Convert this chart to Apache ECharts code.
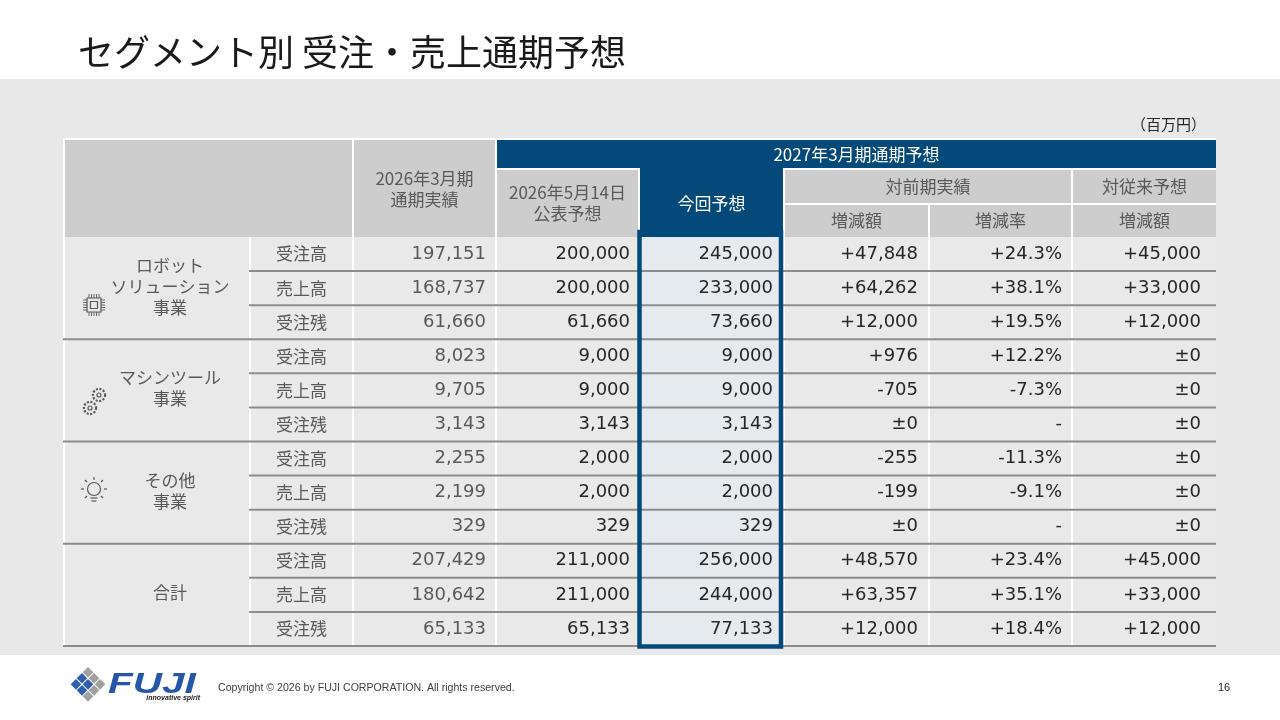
<!DOCTYPE html>
<html>
<head>
<meta charset="utf-8">
<script src="https://cdn.jsdelivr.net/npm/echarts@6/dist/echarts.min.js"></script>
<style>
  html, body { margin: 0; padding: 0; background: #fff; }
  #chart { width: 1280px; height: 720px; }
</style>
</head>
<body>
<div id="chart"></div>
<script>
// ---- data ----
const segments = ['ロボット\nソリューション\n事業', 'マシンツール\n事業', 'その他\n事業', '合計']
const items = ['受注高', '売上高', '受注残']
const actualFY26 = [197151, 168737, 61660, 8023, 9705, 3143, 2255, 2199, 329, 207429, 180642, 65133]
const planMay14 = [200000, 200000, 61660, 9000, 9000, 3143, 2000, 2000, 329, 211000, 211000, 65133]
const forecastFY27 = [245000, 233000, 73660, 9000, 9000, 3143, 2000, 2000, 329, 256000, 244000, 77133]
const diffPrevYear = [47848, 64262, 12000, 976, -705, 0, -255, -199, 0, 48570, 63357, 12000]
const ratePrevYear = [24.3, 38.1, 19.5, 12.2, -7.3, null, -11.3, -9.1, null, 23.4, 35.1, 18.4]
const diffPlan = [45000, 33000, 12000, 0, 0, 0, 0, 0, 0, 45000, 33000, 12000]
// header cells: [text, firstCol, lastCol+1, firstHeaderRow, lastHeaderRow+1, blue]
const headerCells = [
  ['', 0, 2, 0, 3, false],
  ['2026年3月期\n通期実績', 2, 3, 0, 3, false],
  ['2027年3月期通期予想', 3, 8, 0, 1, true],
  ['2026年5月14日\n公表予想', 3, 4, 1, 3, false],
  ['今回予想', 4, 5, 1, 3, true],
  ['対前期実績', 5, 7, 1, 2, false],
  ['対従来予想', 7, 8, 1, 2, false],
  ['増減額', 5, 6, 2, 3, false],
  ['増減率', 6, 7, 2, 3, false],
  ['増減額', 7, 8, 2, 3, false]
]

// ---- layout ----
const colX = [63, 249, 352, 495, 638, 783, 928, 1071, 1216]
const headY = [139, 168, 203, 237]
const bodyTop = 237
const rowH = 34.08
const padR = [0, 0, 9, 8, 10, 10, 9, 15]
const JP = "'Noto Sans CJK JP', sans-serif"
const NUM = "'DejaVu Sans', 'Noto Sans CJK JP', sans-serif"
const BLUE = '#034a7a'
const GRAY_TXT = '#595959'

const fmt = n => n.toLocaleString('en-US')
const signed = n => n > 0 ? '+' + fmt(n) : (n === 0 ? '±0' : '-' + fmt(-n))
const pct = n => n == null ? '-' : (n > 0 ? '+' : '-') + Math.abs(n).toFixed(1) + '%'

const g = []
const rect = (x, y, w, h, fill, z) => g.push({ type: 'rect', z: z || 1, shape: { x, y, width: w, height: h }, style: { fill } })
const line = (x1, y1, x2, y2, stroke, lw, z) => g.push({ type: 'line', z: z || 2, shape: { x1, y1, x2, y2 }, style: { stroke, lineWidth: lw } })
const text = (x, y, str, o, extra) => g.push(Object.assign({
  type: 'text', z: 5, x, y,
  style: Object.assign({ text: str, fill: GRAY_TXT, fontSize: 17, fontFamily: JP, align: 'center', verticalAlign: 'middle', lineHeight: 21 }, o || {})
}, extra || {}))

// page background band
rect(0, 79, 1280, 576, '#e8e8e8', 0)
// title
text(78, 52, 'セグメント別 受注・売上通期予想', { fill: '#1a1a1a', fontSize: 36, align: 'left' })
text(1206, 124, '（百万円）', { fill: '#262626', fontSize: 15, align: 'right' })

// table backing (white separators)
rect(colX[0], 138, colX[8] - colX[0], bodyTop + rowH * 12 - 138, '#ffffff', 0)

// header
headerCells.forEach(([t, c0, c1, r0, r1, blue]) => {
  const x = colX[c0] + 2, w = colX[c1] - colX[c0] - 2
  let y = headY[r0] + (r0 ? 2 : 1), h = headY[r1] - y
  if (blue && r0 === 1) { y -= 3; h += 3 }
  rect(x, y, w, h, blue ? BLUE : '#cdcdcd', blue ? 2 : 1)
  if (t) text((colX[c0] + colX[c1]) / 2 + 1, (headY[r0] + headY[r1]) / 2 + 1, t, { fill: blue ? '#ffffff' : GRAY_TXT })
})

// body
const cols = [actualFY26, planMay14, forecastFY27, diffPrevYear, ratePrevYear, diffPlan]
const fmts = [fmt, fmt, fmt, signed, pct, signed]
segments.forEach((seg, s) => {
  const top = bodyTop + s * 3 * rowH
  rect(colX[0] + 2, top, colX[1] - colX[0] - 2, rowH * 3, '#e9e9e9')
  text(170, top + rowH * 1.5 - 2, seg)
  items.forEach((it, k) => {
    const i = s * 3 + k
    const y = top + k * rowH
    rect(colX[1] + 2, y, colX[2] - colX[1] - 2, rowH, '#e9e9e9')
    text((colX[1] + colX[2]) / 2 + 1, y + rowH / 2, it)
    cols.forEach((arr, c) => {
      const ci = c + 2
      rect(colX[ci] + 2, y, colX[ci + 1] - colX[ci] - 2, rowH, ci === 4 ? '#e5eaef' : '#e9e9e9')
      text(colX[ci + 1] - padR[ci], y + rowH / 2, fmts[c](arr[i]), {
        fontFamily: NUM, fontSize: 18, align: 'right', fill: ci === 2 ? GRAY_TXT : '#262626'
      })
    })
    const yb = y + rowH
    line(k === 2 ? colX[0] : colX[1], yb, colX[8], yb, '#8c8c8c', 2)
  })
})

// highlighted forecast column box
g.push({
  type: 'rect', z: 3,
  shape: { x: 639.5, y: 232, width: 141.5, height: 414.5 },
  style: { fill: null, stroke: BLUE, lineWidth: 4.5 }
})

// icons
const ic = { stroke: GRAY_TXT, fill: null, lineWidth: 1.2 }
// chip
g.push({ type: 'rect', z: 4, shape: { x: 87, y: 298, width: 14, height: 14 }, style: ic })
g.push({ type: 'rect', z: 4, shape: { x: 90.5, y: 301.5, width: 7, height: 7 }, style: ic })
for (let k = 0; k < 5; k++) {
  const p = 89 + k * 2.5
  line(p, 294, p, 298, GRAY_TXT, 0.9, 4); line(p, 312, p, 316, GRAY_TXT, 0.9, 4)
  const q = 300 + k * 2.5
  line(83, q, 87, q, GRAY_TXT, 0.9, 4); line(101, q, 105, q, GRAY_TXT, 0.9, 4)
}
// gears
;[[99, 395, 6], [90, 408, 6]].forEach(([cx, cy, r]) => {
  g.push({ type: 'circle', z: 4, shape: { cx, cy, r }, style: { stroke: GRAY_TXT, fill: null, lineWidth: 2.4, lineDash: [2, 1.5] } })
  g.push({ type: 'circle', z: 4, shape: { cx, cy, r: 4.2 }, style: { stroke: '#e9e9e9', fill: null, lineWidth: 1.2 } })
  g.push({ type: 'circle', z: 4, shape: { cx, cy, r: 2 }, style: ic })
})
// bulb
g.push({ type: 'circle', z: 4, shape: { cx: 94, cy: 489, r: 6.5 }, style: ic })
line(90.5, 498, 97.5, 498, GRAY_TXT, 1.2, 4)
line(91.5, 501, 96.5, 501, GRAY_TXT, 1.2, 4)
line(94, 477, 94, 480, GRAY_TXT, 1.2, 4)
line(81, 489, 84, 489, GRAY_TXT, 1.2, 4)
line(104, 489, 107, 489, GRAY_TXT, 1.2, 4)
line(85, 480, 87, 482, GRAY_TXT, 1.2, 4)
line(103, 480, 101, 482, GRAY_TXT, 1.2, 4)
line(85, 498, 87, 496, GRAY_TXT, 1.2, 4)
line(103, 498, 101, 496, GRAY_TXT, 1.2, 4)

// footer logo
const diamonds = []
for (let r = 0; r < 3; r++) {
  for (let c = 0; c < 3; c++) {
    diamonds.push({
      type: 'rect', shape: { x: c * 8.5, y: r * 8.5, width: 7.5, height: 7.5 },
      style: { fill: (r === 0 || c === 2) ? '#a0a0a0' : '#2f5fae' }
    })
  }
}
g.push({ type: 'group', z: 4, x: 88, y: 667, rotation: -Math.PI / 4, children: diamonds })
text(108, 685, 'FUJI', { fill: '#2656a8', fontSize: 30, fontFamily: "'Liberation Sans', sans-serif", fontWeight: 'bold', fontStyle: 'italic', align: 'left' }, { scaleX: 1.35 })
text(200, 698, 'innovative spirit', { fill: '#222', fontSize: 7, fontFamily: "'Liberation Sans', sans-serif", fontWeight: 'bold', fontStyle: 'italic', align: 'right' })
text(218, 688, 'Copyright © 2026 by FUJI CORPORATION. All rights reserved.', { fill: '#404040', fontSize: 10.6, fontFamily: "'Liberation Sans', sans-serif", align: 'left' })
text(1224, 688, '16', { fill: '#262626', fontSize: 11, fontFamily: "'Liberation Sans', sans-serif" })

const chart = echarts.init(document.getElementById('chart'))
chart.setOption({ animation: false, graphic: { elements: g } })
window.addEventListener('resize', () => chart.resize())
</script>
</body>
</html>
